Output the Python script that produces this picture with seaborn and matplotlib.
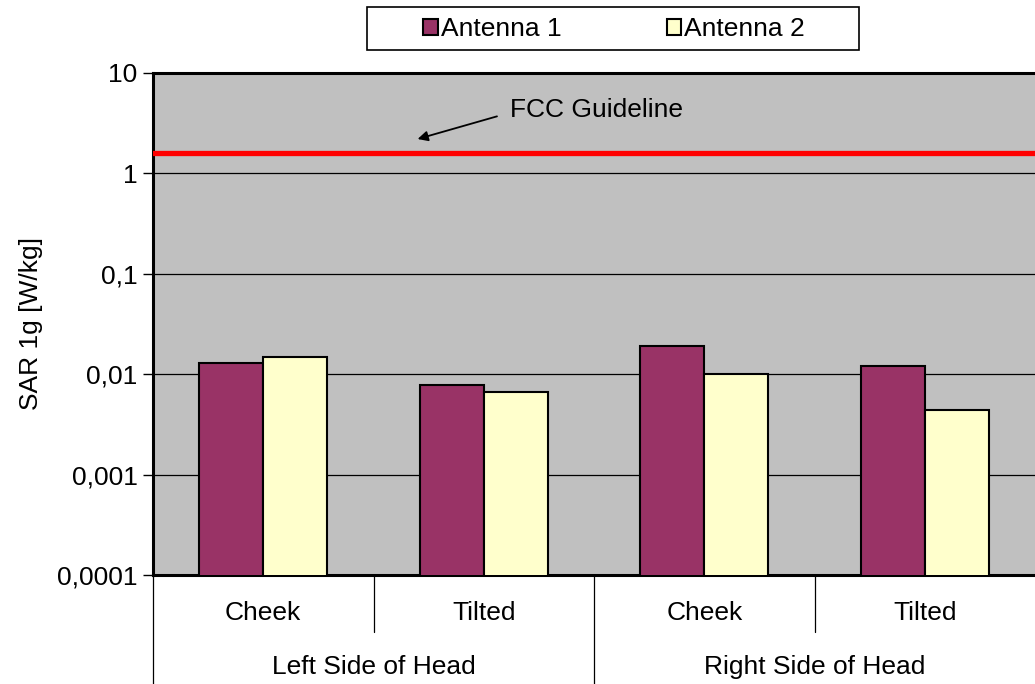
import matplotlib
matplotlib.use("Agg")
import matplotlib.pyplot as plt
import matplotlib.transforms as mtransforms
from matplotlib.patches import Rectangle
import pandas as pd
import seaborn as sns

# data
positions = ["Cheek", "Tilted", "Cheek", "Tilted"]
sides = ["Left Side of Head", "Right Side of Head"]
antenna_1 = [0.013, 0.0078, 0.019, 0.012]
antenna_2 = [0.015, 0.0066, 0.010, 0.0044]
series_names = ["Antenna 1", "Antenna 2"]
fcc_limit = 1.6
ytick_vals = [0.0001, 0.001, 0.01, 0.1, 1, 10]
ytick_labels = ["0,0001", "0,001", "0,01", "0,1", "1", "10"]

sns.set_style("white")
plt.rcParams["font.family"] = ["Liberation Sans", "DejaVu Sans"]
plt.rcParams["text.color"] = "black"
plt.rcParams["axes.labelcolor"] = "black"
plt.rcParams["ytick.color"] = "black"
FS = 19

slots = [f"{i}" for i in range(len(positions))]
df = pd.DataFrame({
    "slot": slots * 2,
    "value": antenna_1 + antenna_2,
    "series": [series_names[0]] * 4 + [series_names[1]] * 4,
})

fig = plt.figure(figsize=(10.35, 6.84), dpi=100)
ax = fig.add_axes([153 / 1035, 1 - 575 / 684, 1 - 153 / 1035, (575 - 73) / 684])
ax.set_facecolor("#C0C0C0")
ax.set_yscale("log")

sns.barplot(data=df, x="slot", y="value", hue="series", order=slots,
            hue_order=series_names, palette=["#993366", "#FFFFCC"], saturation=1,
            width=0.58, gap=0, edgecolor="black", linewidth=1.5,
            errorbar=None, ax=ax, zorder=3)

ax.set_ylim(1e-4, 10)
ax.set_xlim(-0.5, len(positions) - 0.5)
ax.set_yticks(ytick_vals)
ax.set_yticklabels(ytick_labels, fontsize=FS)
ax.minorticks_off()
ax.yaxis.grid(True, color="black", linewidth=0.9, zorder=0)
ax.set_axisbelow(True)
ax.tick_params(axis="y", direction="out", length=7, width=1, color="black", pad=4, left=True)
ax.set_xticks([])
ax.set_xlabel("")
ax.set_ylabel("SAR 1g [W/kg]", fontsize=FS, labelpad=10)

for s in ["left", "top", "bottom"]:
    ax.spines[s].set_color("black")
    ax.spines[s].set_linewidth(2.2)
ax.spines["right"].set_visible(False)

# FCC limit line
ax.axhline(fcc_limit, color="#FF0000", linewidth=3.8, zorder=4)
ax.annotate("", xy=(0.70, 2.2), xytext=(1.06, 3.7),
            arrowprops=dict(arrowstyle="-|>", color="black", lw=1.3,
                            mutation_scale=15, shrinkA=0, shrinkB=0))
ax.text(1.12, 4.3, "FCC Guideline", fontsize=FS, ha="left", va="center")

# two level category axis
trans = mtransforms.blended_transform_factory(ax.transData, ax.transAxes)
for i, lab in enumerate(positions):
    ax.text(i, -0.076, lab, transform=trans, ha="center", va="center", fontsize=FS)
for j, lab in enumerate(sides):
    ax.text(2 * j + 0.5, -0.184, lab, transform=trans, ha="center", va="center", fontsize=FS)
for xb in [0.5, 2.5]:
    ax.plot([xb, xb], [0, -0.113], transform=trans, color="black", lw=0.9, clip_on=False)
for xb in [-0.5, 1.5]:
    ax.plot([xb, xb], [0, -0.22], transform=trans, color="black", lw=0.9, clip_on=False)

# legend box at top
fig.add_artist(Rectangle((367 / 1035, 1 - 50 / 684), 492 / 1035, 43 / 684,
                         transform=fig.transFigure, facecolor="white",
                         edgecolor="black", linewidth=1.2))
handles, labels = ax.get_legend_handles_labels()
leg = fig.legend(handles, labels, loc="center", bbox_to_anchor=(614 / 1035, 1 - 29 / 684),
                 ncol=2, frameon=False, fontsize=FS, handlelength=0.55,
                 handleheight=0.55, handletextpad=0.1, columnspacing=4.0,
                 borderaxespad=0)
ax.get_legend().remove()

fig.savefig("out.png", dpi=100)
